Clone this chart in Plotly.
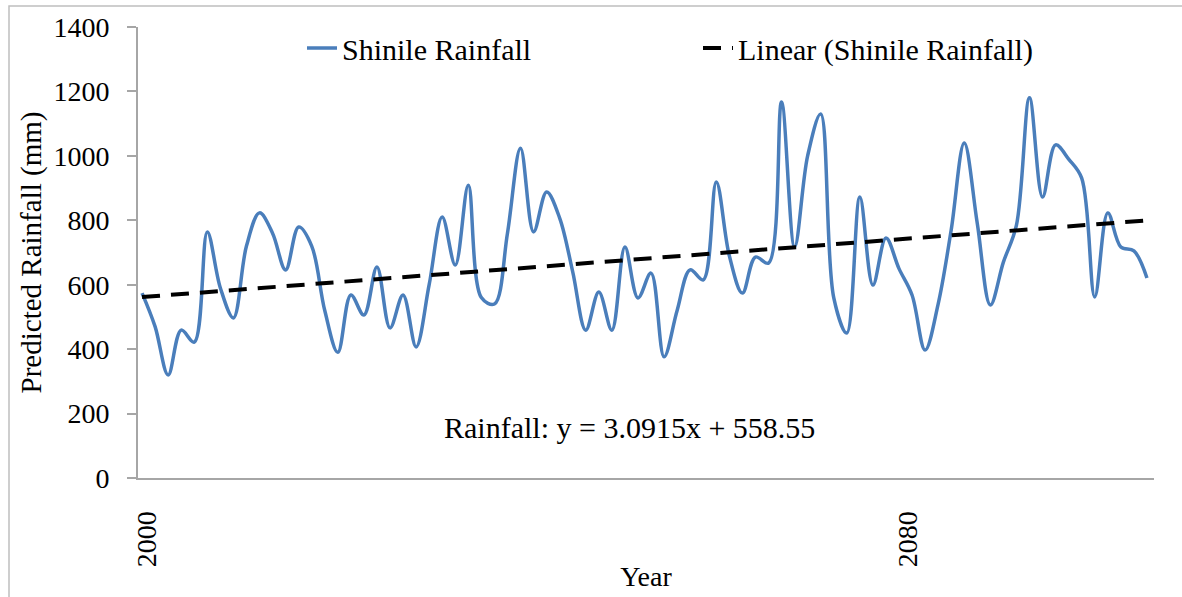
import plotly.graph_objects as go

# ---- data ----
period_index = list(range(1, 79))
rainfall = [574, 470, 320, 459, 422, 764, 590, 497, 720, 823,
            760, 646, 779, 720, 520, 390, 568, 506, 655, 466,
            568, 407, 600, 810, 661, 909, 560, 540, 760, 1024,
            764, 888, 807, 640, 459, 577, 459, 717, 559, 636,
            376, 520, 646, 615, 919, 690, 574, 686, 667, 1167,
            717, 1000, 1130, 560, 450, 872, 599, 745, 650, 568,
            397, 540, 770, 1040, 790, 537, 670, 785, 1180, 872,
            1034, 990, 931, 562, 823, 717, 705, 621]
trend_slope = 3.0915
trend_intercept = 558.55
tick_positions = [1.4, 59.7]
tick_labels = ["2000", "2080"]
y_ticks = [0, 200, 400, 600, 800, 1000, 1200, 1400]

trend = [trend_intercept + trend_slope * i for i in period_index]

FONT = "Liberation Serif, Times New Roman, serif"
BLUE = "#4A7EBB"
AXIS = "#A6A6A6"

fig = go.Figure()
fig.add_trace(go.Scatter(
    x=period_index, y=rainfall, mode="lines", name="Shinile Rainfall",
    line=dict(color=BLUE, width=3.5, shape="spline", smoothing=1.0),
))
fig.add_trace(go.Scatter(
    x=period_index, y=trend, mode="lines", name="Linear (Shinile Rainfall)",
    line=dict(color="black", width=4, dash="18px,11px"),
))

W, H = 1182, 597
L, R, T, B = 138, 1154, 27, 478

def px(x):
    return (x - L) / (R - L)

def py(y):
    return (B - y) / (B - T)

fig.update_layout(
    width=W, height=H,
    margin=dict(l=L, r=W - R, t=T, b=H - B, autoexpand=False),
    paper_bgcolor="white", plot_bgcolor="white",
    font=dict(family=FONT, size=28, color="black"),
    showlegend=True,
    legend=dict(
        orientation="h", x=px(302), y=py(48), xanchor="left", yanchor="middle",
        font=dict(family=FONT, size=30, color="black"),
        entrywidth=351, entrywidthmode="pixels",
        bgcolor="rgba(0,0,0,0)", itemwidth=30,
    ),
    xaxis=dict(
        range=[0.69, 78.54], showgrid=False, zeroline=False, automargin=False,
        showline=True, linecolor=AXIS, linewidth=2,
        tickmode="array", tickvals=tick_positions, ticktext=tick_labels,
        tickangle=-90, ticks="", ticklabelstandoff=20,
        tickfont=dict(family=FONT, size=28, color="black"),
        title=dict(text="Year", standoff=0,
                   font=dict(family=FONT, size=28, color="black")),
    ),
    yaxis=dict(
        range=[0, 1400], showgrid=False, zeroline=False, automargin=False,
        showline=True, linecolor=AXIS, linewidth=2,
        tickmode="array", tickvals=y_ticks,
        ticks="outside", ticklen=9, tickcolor=AXIS, tickwidth=2,
        ticklabelstandoff=12,
        tickfont=dict(family=FONT, size=28, color="black"),
        title=dict(text="Predicted Rainfall (mm)", standoff=3,
                   font=dict(family=FONT, size=29, color="black")),
    ),
    annotations=[dict(
        text="Rainfall: y = 3.0915x + 558.55", xref="paper", yref="paper",
        x=px(629), y=py(427), xanchor="center", yanchor="middle",
        showarrow=False, font=dict(family=FONT, size=30, color="black"),
    )],
    shapes=[dict(
        type="rect", xref="paper", yref="paper",
        x0=px(9), x1=px(1195), y0=py(615), y1=py(6),
        line=dict(color="#BFBFBF", width=1.5), fillcolor="rgba(0,0,0,0)",
        layer="below",
    )],
)

fig.write_html(
    "out.html",
    config={"displayModeBar": False},
    post_script="document.body.style.margin='0';document.body.style.overflow='hidden';",
)
